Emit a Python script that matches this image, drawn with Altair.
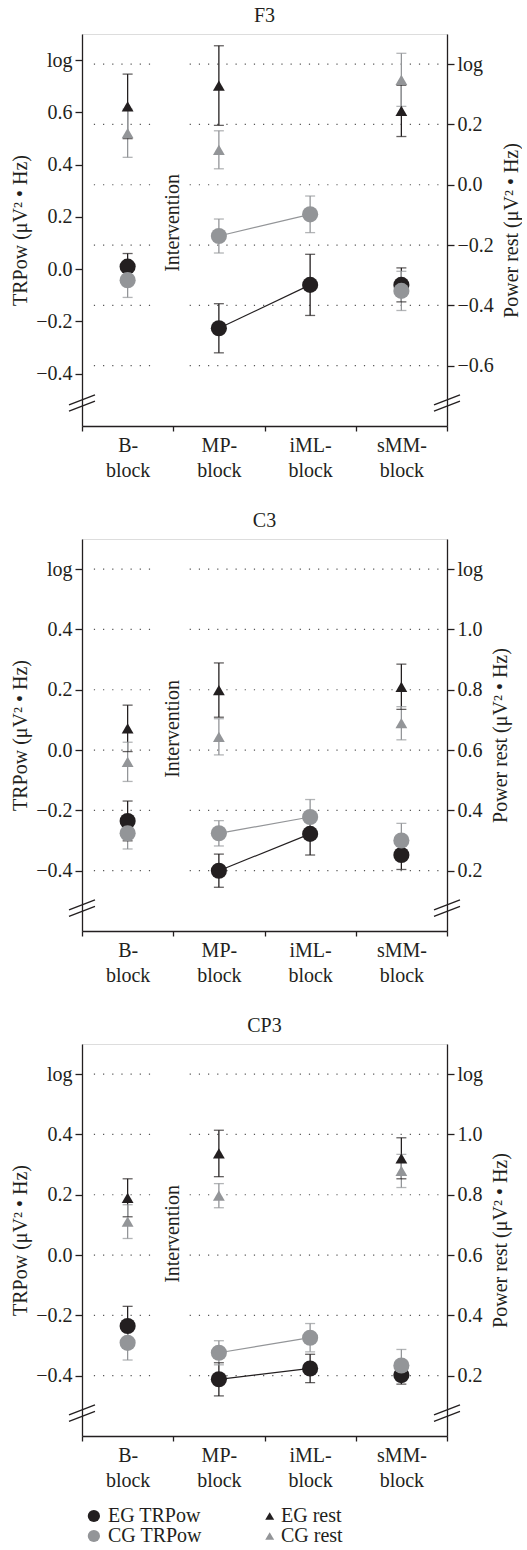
import altair as alt
import pandas as pd

DARK = "#231f20"
GRAY = "#939598"
GRID = "#555555"
FONT = "Liberation Serif"
FS = 20

# ---------------- data ----------------
categories = ["B-block", "MP-block", "iML-block", "sMM-block"]
panels = ["F3", "C3", "CP3"]
intervention_label = "Intervention"

# TRPow (left axis): means and error half-widths
eg_trpow = {"F3": [0.01, -0.226, -0.06, -0.06],
            "C3": [-0.235, -0.40, -0.278, -0.348],
            "CP3": [-0.235, -0.412, -0.376, -0.398]}
eg_trpow_err = {"F3": [0.05, 0.094, 0.117, 0.065],
                "C3": [0.066, 0.055, 0.07, 0.048],
                "CP3": [0.065, 0.055, 0.047, 0.03]}
cg_trpow = {"F3": [-0.042, 0.127, 0.21, -0.083],
            "C3": [-0.276, -0.276, -0.222, -0.30],
            "CP3": [-0.291, -0.324, -0.274, -0.366]}
cg_trpow_err = {"F3": [0.066, 0.065, 0.07, 0.075],
                "C3": [0.052, 0.042, 0.058, 0.057],
                "CP3": [0.057, 0.04, 0.047, 0.053]}

# Power rest (right axis): no value for iML-block
eg_rest = {"F3": [0.26, 0.329, None, 0.245],
           "C3": [0.672, 0.799, None, 0.81],
           "CP3": [0.79, 0.937, None, 0.921]}
eg_rest_err = {"F3": [0.107, 0.132, None, 0.085],
               "C3": [0.077, 0.09, None, 0.075],
               "CP3": [0.063, 0.077, None, 0.068]}
cg_rest = {"F3": [0.171, 0.116, None, 0.348],
           "C3": [0.561, 0.644, None, 0.689],
           "CP3": [0.711, 0.797, None, 0.879]}
cg_rest_err = {"F3": [0.08, 0.063, None, 0.088],
               "C3": [0.065, 0.06, None, 0.055],
               "CP3": [0.056, 0.04, None, 0.055]}

left_domain = {"F3": [-0.6, 0.9], "C3": [-0.6, 0.7], "CP3": [-0.6, 0.7]}
right_domain = {"F3": [-0.8, 0.5], "C3": [0.0, 1.3], "CP3": [0.0, 1.3]}
left_ticks = {"F3": [-0.4, -0.2, 0.0, 0.2, 0.4, 0.6, 0.8],
              "C3": [-0.4, -0.2, 0.0, 0.2, 0.4, 0.6],
              "CP3": [-0.4, -0.2, 0.0, 0.2, 0.4, 0.6]}
right_ticks = {"F3": [-0.6, -0.4, -0.2, 0.0, 0.2, 0.4],
               "C3": [0.2, 0.4, 0.6, 0.8, 1.0, 1.2],
               "CP3": [0.2, 0.4, 0.6, 0.8, 1.0, 1.2]}
intervention_y = {"F3": 0.177, "C3": 0.07, "CP3": 0.07}
break_y = {"F3": -0.512, "C3": -0.524, "CP3": -0.524}

left_title = "TRPow (\u03bcV\u00b2 \u2022 Hz)"
right_title = "Power rest (\u03bcV\u00b2 \u2022 Hz)"

legend_labels = ["EG TRPow", "CG TRPow", "EG rest", "CG rest"]
legend_groups = ["EG", "CG", "EG", "CG"]
legend_kinds = ["TRPow", "TRPow", "rest", "rest"]

# ---------------- layout constants ----------------
W, H = 365, 392
NCAT = len(categories)
PX_PER_X = W / NCAT

color = alt.Color("group:N", scale=alt.Scale(domain=["EG", "CG"], range=[DARK, GRAY]), legend=None)

x_vals = [i * 0.5 for i in range(2 * NCAT + 1)]
parts = []
for i, c in enumerate(categories):
    a, b = c.split("-")
    parts.append(f"datum.value == {i + 0.5} ? ['{a}-', '{b}'] : ")
x_expr = "".join(parts) + "''"

x_axis = alt.Axis(values=x_vals, labelExpr=x_expr, title=None, grid=False,
                  tickSize=5, tickWidth=1.3, tickColor=DARK, domainColor=DARK, domainWidth=1.3,
                  tickOpacity={"condition": {"test": "datum.value % 1 != 0", "value": 0}, "value": 1},
                  labelFont=FONT, labelFontSize=FS, labelColor=DARK, labelAngle=0,
                  labelLineHeight=25, labelPadding=4, labelOverlap=False, labelFlush=False,
                  labelBaseline="top")


def xE(field):
    return alt.X(f"{field}:Q", scale=alt.Scale(domain=[0, NCAT], nice=False, zero=False), axis=x_axis)


def label_expr(top):
    return (f"datum.value > {top - 0.05} ? 'log' : "
            f"replace(format(datum.value, '.1f'), '-', '\u2212')")


def make_panel(name, with_legend=False):
    ld, rd = left_domain[name], right_domain[name]
    left_axis = alt.Axis(orient="left", values=left_ticks[name], labelExpr=label_expr(max(left_ticks[name])),
                         grid=False, tickSize=7, tickWidth=1.3, tickColor=DARK, domainColor=DARK,
                         domainWidth=1.3, labelFont=FONT, labelFontSize=FS, labelColor=DARK,
                         labelPadding=3, labelOverlap=False, labelFlush=False,
                         title=left_title, titleFont=FONT, titleFontSize=FS, titleFontWeight="normal",
                         titleColor=DARK, titlePadding=5)
    right_axis = alt.Axis(orient="right", values=right_ticks[name], labelExpr=label_expr(max(right_ticks[name])),
                          grid=False, tickSize=7, tickWidth=1.3, tickColor=DARK, domainColor=DARK,
                          domainWidth=1.3, labelFont=FONT, labelFontSize=FS, labelColor=DARK,
                          labelPadding=3, labelOverlap=False, labelFlush=False,
                          title=right_title, titleFont=FONT, titleFontSize=FS, titleFontWeight="normal",
                          titleColor=DARK, titlePadding=8, titleAngle=270, titleBaseline="top")

    def yL(field):
        return alt.Y(f"{field}:Q", scale=alt.Scale(domain=ld, nice=False, zero=False), axis=left_axis)

    def yR(field, axis=True):
        return alt.Y(f"{field}:Q", scale=alt.Scale(domain=rd, nice=False, zero=False),
                     axis=right_axis if axis else None)

    # TRPow data
    rows = []
    for g, vals, errs in [("EG", eg_trpow[name], eg_trpow_err[name]),
                          ("CG", cg_trpow[name], cg_trpow_err[name])]:
        for i, (v, e) in enumerate(zip(vals, errs)):
            rows.append({"cat": categories[i], "x": i + 0.5, "group": g, "v": v,
                         "lo": v - e, "hi": v + e, "connect": i in (1, 2)})
    trp = pd.DataFrame(rows)

    rows = []
    for g, vals, errs in [("EG", eg_rest[name], eg_rest_err[name]),
                          ("CG", cg_rest[name], cg_rest_err[name])]:
        for i, (v, e) in enumerate(zip(vals, errs)):
            if v is None:
                continue
            rows.append({"cat": categories[i], "x": i + 0.5, "group": g, "v": v,
                         "lo": v - e, "hi": v + e})
    rst = pd.DataFrame(rows)

    # dotted grid at the right-axis ticks, interrupted around the label
    grows = []
    for t in right_ticks[name]:
        grows.append({"g": t, "x0": 0.13, "x1": 0.76})
        grows.append({"g": t, "x0": 1.18, "x1": NCAT - 0.06})
    grid_df = pd.DataFrame(grows)
    grid = alt.Chart(grid_df).mark_rule(color=GRID, strokeWidth=1.2, strokeDash=[1.2, 7.97]).encode(
        x=xE("x0"), x2="x1:Q", y=yR("g", axis=False))

    # axis break marks "//"
    unit = H / (ld[1] - ld[0])
    dx = 13 / PX_PER_X
    dy = 5 / unit
    sep = 3.2 / unit
    brows = []
    for xc in (0, NCAT):
        for s in (-1, 1):
            yc = break_y[name] + s * sep
            brows.append({"bx": xc - dx, "bx2": xc + dx, "by": yc - dy, "by2": yc + dy})
    brk = alt.Chart(pd.DataFrame(brows)).mark_rule(color=DARK, strokeWidth=1.3).encode(
        x=xE("bx"), x2="bx2:Q", y=yL("by"), y2="by2:Q")

    tb = alt.Chart(trp)
    t_lines = tb.transform_filter("datum.connect").mark_line(strokeWidth=1.2).encode(
        x=xE("x"), y=yL("v"), color=color, detail="group:N")
    t_bars = tb.mark_rule(strokeWidth=1.3).encode(x=xE("x"), y=yL("lo"), y2="hi:Q", color=color)
    t_cap_lo = tb.mark_tick(orient="horizontal", size=10, thickness=1.3).encode(x=xE("x"), y=yL("lo"), color=color)
    t_cap_hi = tb.mark_tick(orient="horizontal", size=10, thickness=1.3).encode(x=xE("x"), y=yL("hi"), color=color)
    t_pts = tb.mark_circle(size=260, opacity=1).encode(x=xE("x"), y=yL("v"), color=color)

    interv = alt.Chart(pd.DataFrame({"x": [1.0], "v": [intervention_y[name]], "t": [intervention_label]})).mark_text(
        angle=270, font=FONT, fontSize=FS, color=DARK, align="center", baseline="middle").encode(
        x=xE("x"), y=yL("v"), text="t:N")

    left_layers = [t_lines, t_bars, t_cap_lo, t_cap_hi, t_pts, interv, brk]

    if with_legend:
        # legend placed below the x-axis labels (two columns, two rows)
        lrows = []
        for lab, g, k in zip(legend_labels, legend_groups, legend_kinds):
            col = 0 if k == "TRPow" else 1
            row = 0 if g == "EG" else 1
            sx = 0.13 + col * 1.927
            lrows.append({"lab": lab, "group": g, "kind": k, "sx": sx,
                          "tx": sx + (0.155 if k == "TRPow" else 0.124),
                          "ly": ld[0] - (80 + 20 * row) / unit})
        lb = alt.Chart(pd.DataFrame(lrows))
        left_layers += [
            lb.transform_filter("datum.kind == 'TRPow'").mark_circle(size=150, opacity=1).encode(
                x=xE("sx"), y=yL("ly"), color=color),
            lb.transform_filter("datum.kind == 'rest'").mark_point(
                shape="triangle-up", filled=True, size=80, opacity=1).encode(
                x=xE("sx"), y=yL("ly"), color=color),
            lb.mark_text(align="left", baseline="middle", font=FONT, fontSize=FS, color=DARK).encode(
                x=xE("tx"), y=yL("ly"), text="lab:N"),
        ]

    left = alt.layer(*left_layers)

    rb = alt.Chart(rst)
    r_bars = rb.mark_rule(strokeWidth=1.3).encode(x=xE("x"), y=yR("lo"), y2="hi:Q", color=color)
    r_cap_lo = rb.mark_tick(orient="horizontal", size=10, thickness=1.3).encode(x=xE("x"), y=yR("lo"), color=color)
    r_cap_hi = rb.mark_tick(orient="horizontal", size=10, thickness=1.3).encode(x=xE("x"), y=yR("hi"), color=color)
    r_pts = rb.mark_point(shape="triangle-up", filled=True, size=140, opacity=1).encode(
        x=xE("x"), y=yR("v"), color=color)
    right = alt.layer(r_bars, r_cap_lo, r_cap_hi, r_pts)

    return alt.layer(grid, left, right).resolve_scale(y="independent").properties(
        width=W, height=H,
        title=alt.TitleParams(text=name, font=FONT, fontSize=FS, fontWeight="normal",
                              color=DARK, offset=8, anchor="middle"))


charts = [make_panel(p, with_legend=(i == len(panels) - 1)) for i, p in enumerate(panels)]

chart = alt.vconcat(*charts, spacing=29).properties(
    padding={"left": 10, "top": 5, "right": 0, "bottom": 0}
).configure_view(stroke=None).configure(background="white")

chart.save("out.html", embed_options={"renderer": "svg", "actions": False})
